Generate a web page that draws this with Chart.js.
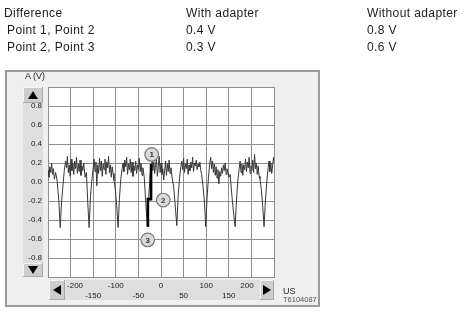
<!DOCTYPE html>
<html>
<head>
<meta charset="utf-8">
<script src="https://cdn.jsdelivr.net/npm/chart.js@4.4.1/dist/chart.umd.min.js"></script>
<style>
  body { margin: 0; background: #fff; font-family: "Liberation Sans", Arial, sans-serif; }
  #wrap { position: relative; width: 465px; height: 312px; overflow: hidden; }
  #wrap canvas { position: absolute; left: 0; top: 0; }
  .t { position: absolute; white-space: nowrap; color: #1c1c1c; font-size: 12px; line-height: 14px; letter-spacing: 0.4px; }
  .s { position: absolute; white-space: nowrap; color: #222; }
</style>
</head>
<body>
<div id="wrap">
  <canvas id="scope-chart" width="465" height="312"></canvas>

  <div class="t" style="left:4px;top:6px;">Difference</div>
  <div class="t" style="left:186px;top:6px;">With adapter</div>
  <div class="t" style="left:367px;top:6px;">Without adapter</div>
  <div class="t" style="left:7px;top:23px;">Point 1, Point 2</div>
  <div class="t" style="left:186px;top:23px;">0.4 V</div>
  <div class="t" style="left:367px;top:23px;">0.8 V</div>
  <div class="t" style="left:7px;top:40px;">Point 2, Point 3</div>
  <div class="t" style="left:186px;top:40px;">0.3 V</div>
  <div class="t" style="left:367px;top:40px;">0.6 V</div>

  <div class="s" style="left:25px;top:71px;font-size:9px;">A (V)</div>
  <div class="s" style="left:283px;top:286px;font-size:9px;">US</div>
  <div class="s" style="left:283px;top:295px;font-size:7.5px;color:#555;">T6104087</div>
</div>

<script>
// trace (time in us, voltage in V)
var timeUs = [
  -250, -248, -246, -244, -242, -240, -238, -236, -233, -230, -226, -223, -220, -217, -214,
  -211, -209, -207, -205, -203, -201, -199, -197, -195, -193, -191, -189, -187, -185, -183,
  -181, -179, -177, -175, -173, -171, -168, -165, -162, -159, -156, -153, -150,
  -148, -146, -144, -142, -140, -138, -136, -134, -132, -130, -128, -126, -124, -122, -120,
  -118, -116, -114, -112, -110, -108, -106, -104, -101, -98, -95, -92, -89, -86,
  -84, -82, -80, -78, -76, -74, -72, -70, -68, -66, -64, -62, -60, -58, -56,
  -54, -52, -50, -48, -46, -44, -42, -40, -37, -34, -30, -27, -24, -22,
  -20, -18, -16, -14, -12, -10, -8, -6, -4, -2, 0, 2, 4, 6, 8,
  10, 12, 14, 16, 18, 20, 22, 25, 28, 31, 35, 38, 41, 44,
  46, 48, 50, 52, 54, 56, 58, 60, 62, 64, 66, 68, 70, 72, 74,
  76, 78, 80, 82, 84, 86, 88, 90, 93, 96, 99, 102, 105, 108,
  110, 112, 114, 116, 118, 120, 122, 124, 126, 128, 130, 132, 134, 136, 138,
  140, 142, 144, 146, 148, 150, 153, 157, 160, 164, 167, 170, 173,
  175, 177, 179, 181, 183, 185, 187, 189, 191, 193, 195, 197, 199, 201, 203,
  205, 207, 209, 211, 213, 215, 217, 219, 222, 225, 228, 231, 234, 237,
  239, 241, 243, 245, 247, 249, 250
];
var voltage = [
  0.12, 0.05, 0.16, 0.10, 0.20, 0.08, 0.14, 0.03, 0.10, 0.02, -0.20, -0.48, -0.21, -0.04, 0.12,
  0.22, 0.15, 0.27, 0.10, 0.18, 0.06, 0.24, 0.12, 0.20, 0.08, 0.22, 0.14, 0.26, 0.09, 0.19,
  0.11, 0.23, 0.07, 0.17, 0.12, 0.20, 0.05, 0.10, -0.22, -0.48, -0.15, 0.02, 0.15,
  0.24, 0.11, 0.21, -0.04, 0.18, 0.09, 0.25, 0.12, 0.22, 0.06, 0.19, 0.13, 0.24, 0.08, 0.21,
  0.15, 0.27, 0.10, 0.18, 0.05, 0.16, 0.09, 0.02, -0.08, -0.25, -0.48, -0.18, 0.03, 0.14,
  0.20, 0.11, 0.23, 0.16, 0.26, 0.08, 0.19, 0.13, 0.24, 0.10, 0.21, 0.06, 0.17, 0.12, 0.22,
  0.09, 0.18, 0.14, 0.25, 0.11, 0.20, 0.07, 0.15, 0.05, -0.20, -0.47, -0.15, 0.08, 0.19,
  0.25, 0.12, 0.21, 0.09, 0.18, 0.24, 0.06, 0.16, 0.27, 0.10, 0.20, 0.08, 0.14, 0.02, 0.12,
  0.22, 0.07, 0.19, 0.11, 0.23, 0.09, 0.15, 0.03, -0.05, -0.22, -0.46, -0.14, 0.04, 0.16,
  0.22, 0.13, 0.25, 0.10, 0.19, 0.14, 0.24, 0.08, 0.18, 0.12, 0.21, 0.15, 0.26, 0.11, 0.20,
  0.17, 0.23, 0.13, 0.19, 0.16, 0.21, 0.12, 0.08, -0.05, -0.20, -0.47, -0.16, 0.05, 0.20,
  0.26, 0.14, 0.22, 0.10, 0.19, 0.07, 0.16, 0.04, 0.13, -0.02, 0.11, 0.06, 0.15, 0.09, 0.18,
  0.12, 0.20, 0.08, 0.14, 0.10, 0.05, 0.08, -0.15, -0.30, -0.47, -0.20, 0.02, 0.14,
  0.22, 0.10, 0.19, 0.07, 0.18, 0.13, 0.24, 0.11, 0.21, 0.15, 0.26, 0.09, 0.17, 0.12, 0.23,
  0.10, 0.29, 0.14, 0.20, 0.08, 0.17, 0.06, 0.03, -0.08, -0.25, -0.47, -0.20, 0.00, 0.15,
  0.22, 0.11, 0.20, 0.09, 0.18, 0.26, 0.20
];

// highlighted falling edge (thick black)
var edgeTimeUs = [-22, -22, -29, -29];
var edgeVoltage = [0.19, -0.18, -0.18, -0.47];

// numbered measuring points
var markerLabels = ['1', '2', '3'];
var markerTimeUs = [-20.6, 5, -29.4];
var markerVoltage = [0.29, -0.19, -0.61];

function toPoints(xs, ys) {
  var pts = [];
  for (var i = 0; i < xs.length; i++) pts.push({ x: xs[i], y: ys[i] });
  return pts;
}

function drawButton(c, x, y, w, h, dir) {
  c.fillStyle = '#cdcdcd';
  c.fillRect(x, y, w, h);
  c.strokeStyle = '#f5f5f5';
  c.lineWidth = 1;
  c.beginPath();
  c.moveTo(x + 0.5, y + h); c.lineTo(x + 0.5, y + 0.5); c.lineTo(x + w, y + 0.5);
  c.stroke();
  c.strokeStyle = '#a9a9a9';
  c.beginPath();
  c.moveTo(x + w - 0.5, y); c.lineTo(x + w - 0.5, y + h - 0.5); c.lineTo(x, y + h - 0.5);
  c.stroke();
  var cx = x + w / 2, cy = y + h / 2;
  c.fillStyle = '#000';
  c.beginPath();
  if (dir === 'up') { c.moveTo(cx - 5, cy + 4); c.lineTo(cx + 5, cy + 4); c.lineTo(cx, cy - 4); }
  if (dir === 'down') { c.moveTo(cx - 5, cy - 4); c.lineTo(cx + 5, cy - 4); c.lineTo(cx, cy + 4); }
  if (dir === 'left') { c.moveTo(cx + 4, cy - 5); c.lineTo(cx + 4, cy + 5); c.lineTo(cx - 4, cy); }
  if (dir === 'right') { c.moveTo(cx - 4, cy - 5); c.lineTo(cx - 4, cy + 5); c.lineTo(cx + 4, cy); }
  c.closePath();
  c.fill();
}

// scope panel: grey frame, scale strips and scroll buttons
var panelPlugin = {
  id: 'panel',
  beforeDraw: function (chart) {
    var c = chart.ctx, a = chart.chartArea;
    c.save();
    c.fillStyle = '#efefef';
    c.fillRect(5, 70, 315, 237);
    c.strokeStyle = '#9b9b9b';
    c.lineWidth = 2;
    c.strokeRect(6, 71, 313, 235);
    c.fillStyle = '#fff';
    c.fillRect(a.left, a.top, a.right - a.left, a.bottom - a.top);
    // y scale strip
    c.fillStyle = '#dedede';
    c.fillRect(23, a.top, 20, a.bottom - a.top);
    // x scale strip
    c.fillRect(a.left + 1, a.bottom + 3, a.right - a.left - 1, 20);
    drawButton(c, 23, a.top, 20, 16, 'up');
    drawButton(c, 23, a.bottom - 14, 20, 14, 'down');
    drawButton(c, a.left + 1, a.bottom + 3, 16, 20, 'left');
    drawButton(c, a.right - 14, a.bottom + 3, 14, 20, 'right');
    c.restore();
  },
  afterDatasetsDraw: function (chart) {
    var c = chart.ctx;
    var meta = chart.getDatasetMeta(0);
    c.save();
    c.font = 'bold 8px "Liberation Sans", Arial, sans-serif';
    c.fillStyle = '#333';
    c.textAlign = 'center';
    c.textBaseline = 'middle';
    meta.data.forEach(function (pt, i) {
      c.fillText(markerLabels[i], pt.x, pt.y + 0.5);
    });
    c.restore();
  }
};

var gridColor = '#8e8e8e';

var ctx = document.getElementById('scope-chart');
var scope = new Chart(ctx, {
  type: 'line',
  data: {
    datasets: [{
      label: 'points',
      data: toPoints(markerTimeUs, markerVoltage),
      showLine: false,
      pointRadius: 6.8,
      pointBackgroundColor: '#dadada',
      pointBorderColor: '#777',
      pointBorderWidth: 1.2
    }, {
      label: 'edge',
      data: toPoints(edgeTimeUs, edgeVoltage),
      borderColor: '#000',
      borderWidth: 2.6,
      pointRadius: 0,
      tension: 0
    }, {
      label: 'A (V)',
      data: toPoints(timeUs, voltage),
      borderColor: '#383838',
      borderWidth: 1,
      pointRadius: 0,
      tension: 0
    }]
  },
  options: {
    responsive: false,
    animation: false,
    devicePixelRatio: 1,
    layout: { padding: { left: 22, top: 87, right: 191, bottom: 10 } },
    plugins: { legend: { display: false }, tooltip: { enabled: false } },
    scales: {
      x: {
        type: 'linear',
        min: -250,
        max: 250,
        afterFit: function (s) { s.height = 25; },
        grid: { color: gridColor, lineWidth: 1, drawTicks: false },
        border: { display: true, color: gridColor },
        ticks: {
          stepSize: 50,
          autoSkip: false,
          maxRotation: 0,
          padding: 3,
          color: '#222',
          font: { family: '"Liberation Sans", Arial, sans-serif', size: 8, lineHeight: 1.34 },
          callback: function (v) {
            if (Math.abs(v) > 240) return '';
            var s = String(v);
            // end labels are pushed in clear of the scroll buttons
            if (v === -200) s = '    ' + s;
            if (v === 200) s = s + '    ';
            // staggered labels: hundreds on top row, fifties below
            return (v % 100 === 0) ? [s, ''] : ['', s];
          }
        }
      },
      y: {
        min: -1,
        max: 1,
        afterFit: function (s) { s.width = 26; },
        grid: { color: gridColor, lineWidth: 1, drawTicks: false },
        border: { display: true, color: gridColor },
        ticks: {
          stepSize: 0.2,
          padding: 6,
          color: '#222',
          font: { family: '"Liberation Sans", Arial, sans-serif', size: 8 },
          callback: function (v) {
            if (Math.abs(v) > 0.9) return '';
            return (Math.abs(v) < 0.01 ? 0 : v).toFixed(1);
          }
        }
      }
    }
  },
  plugins: [panelPlugin]
});
</script>
</body>
</html>
